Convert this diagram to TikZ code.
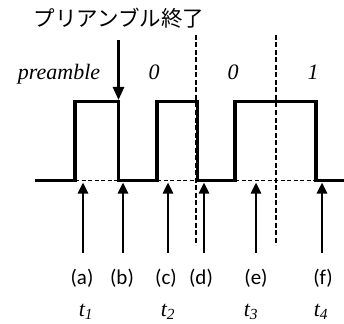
\documentclass[tikz,border=0pt]{standalone}
\usepackage{fontspec}
\setmainfont{Liberation Serif}
\setsansfont{Carlito}
\newfontfamily\jpfont{Noto Sans CJK JP}
\usetikzlibrary{arrows.meta}

\begin{document}
\begin{tikzpicture}[x=1pt,y=-1pt,
  sig/.style={line width=3.4pt},
  lowdash/.style={line width=1.5pt, dash pattern=on 4pt off 2.5pt},
  bitline/.style={line width=1.7pt, dash pattern=on 5pt off 2.5pt},
  uparrow/.style={line width=2.6pt, -{Triangle[length=11pt,width=10pt]}},
  downarrow/.style={line width=2.6pt, -{Triangle[length=13pt,width=11pt]}},
  bitlbl/.style={font=\fontsize{22}{22}\selectfont\itshape, inner sep=0pt},
  evlbl/.style={font=\sffamily\fontsize{21}{21}\selectfont, inner sep=0pt},
  tlbl/.style={font=\fontsize{22}{22}\selectfont\itshape, inner sep=0pt}]
  \useasboundingbox (0,0) rectangle (344,323);
  % Bit boundaries
  \draw[bitline] (196,35) -- (196,245);
  \draw[bitline] (276,35) -- (276,245);
  % Low level under the pulses
  \draw[lowdash] (75,180.5) -- (118,180.5);
  \draw[lowdash] (157,180.5) -- (197,180.5);
  \draw[lowdash] (235,180.5) -- (316,180.5);
  % Signal
  \draw[sig] (35,180.5) -- (75,180.5) -- (75,101.5) -- (118.5,101.5) -- (118.5,180.5)
    -- (157,180.5) -- (157,101.5) -- (197.5,101.5) -- (197.5,180.5) -- (235,180.5)
    -- (235,101.5) -- (316,101.5) -- (316,180.5) -- (344,180.5);
  % End of preamble
  \node[font=\jpfont\fontsize{21.5}{21.5}\selectfont, anchor=base] (endlbl) at (119,27) {プリアンブル終了};
  \coordinate (endtop) at (118.5,40);
  \coordinate (endtip) at (118.5,100);
  \draw[downarrow] (endtop) -- (endtip);
  % Bit labels
  \node[bitlbl, anchor=base] (pre) at (59,80) {preamble};
  \node[bitlbl, anchor=base] (bit1) at (154,80) {0};
  \node[bitlbl, anchor=base] (bit2) at (233,80) {0};
  \node[bitlbl, anchor=base] (bit3) at (313,80) {1};
  % Sampling points
  \coordinate (abot) at (83,253);   \coordinate (atop) at (83,182.5);
  \coordinate (bbot) at (123,253);  \coordinate (btop) at (123,182.5);
  \coordinate (cbot) at (168,253);  \coordinate (ctop) at (168,182.5);
  \coordinate (dbot) at (204,253);  \coordinate (dtop) at (204,182.5);
  \coordinate (ebot) at (256,253);  \coordinate (etop) at (256,182.5);
  \coordinate (fbot) at (322,253);  \coordinate (ftop) at (322,182.5);
  \draw[uparrow] (abot) -- (atop);
  \draw[uparrow] (bbot) -- (btop);
  \draw[uparrow] (cbot) -- (ctop);
  \draw[uparrow] (dbot) -- (dtop);
  \draw[uparrow] (ebot) -- (etop);
  \draw[uparrow] (fbot) -- (ftop);
  % Event labels
  \node[evlbl, anchor=base] (la) at (82,284) {(a)};
  \node[evlbl, anchor=base] (lb) at (122,284) {(b)};
  \node[evlbl, anchor=base] (lc) at (166,284) {(c)};
  \node[evlbl, anchor=base] (ld) at (201,284) {(d)};
  \node[evlbl, anchor=base] (le) at (256,284) {(e)};
  \node[evlbl, anchor=base] (lf) at (323,284) {(f)};
  % Times
  \node[tlbl, anchor=base] (t1) at (86,316) {t\textsubscript{1}};
  \node[tlbl, anchor=base] (t2) at (168,316) {t\textsubscript{2}};
  \node[tlbl, anchor=base] (t3) at (251,316) {t\textsubscript{3}};
  \node[tlbl, anchor=base] (t4) at (321,316) {t\textsubscript{4}};
\end{tikzpicture}
\end{document}
